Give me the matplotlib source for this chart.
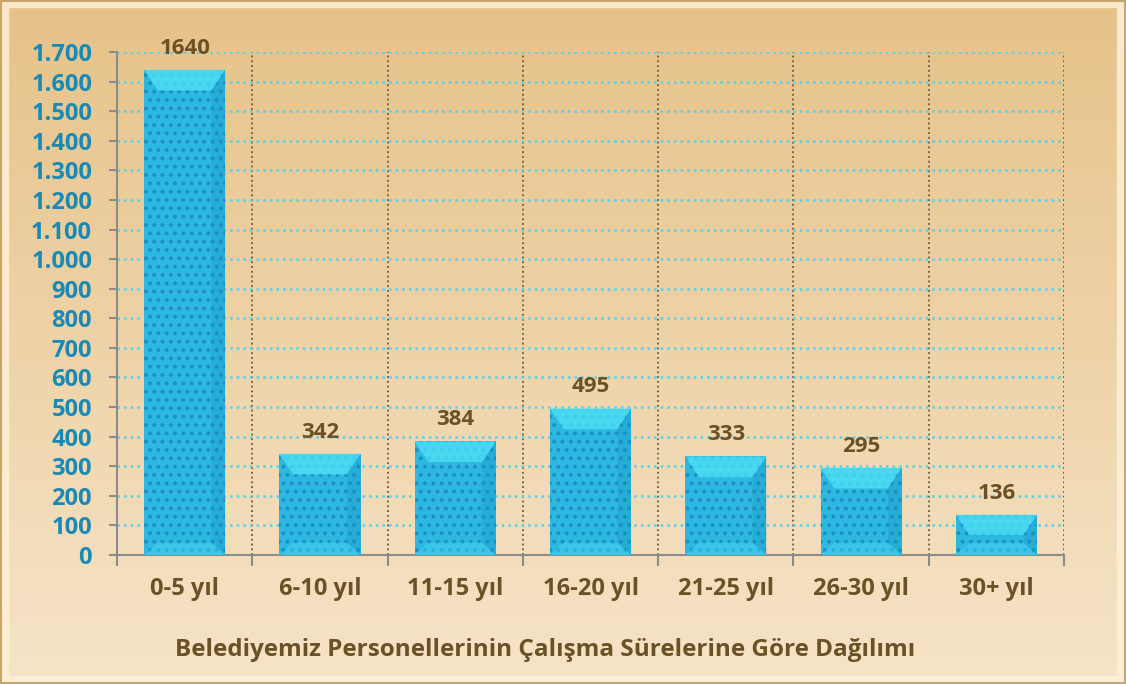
import numpy as np
import matplotlib.pyplot as plt
from matplotlib.patches import Polygon, Rectangle
from matplotlib.ticker import FuncFormatter

plt.rcParams['font.family'] = ['Open Sans', 'DejaVu Sans']
plt.rcParams['hatch.linewidth'] = 1.6

categories = ['0-5 yıl', '6-10 yıl', '11-15 yıl', '16-20 yıl', '21-25 yıl', '26-30 yıl', '30+ yıl']
values = [1640, 342, 384, 495, 333, 295, 136]
title = 'Belediyemiz Personellerinin Çalışma Sürelerine Göre Dağılımı'

brown = '#6b5226'
blue_txt = '#1989b5'

fig = plt.figure(figsize=(11.26, 6.84), dpi=100)

# background gradient
bg = fig.add_axes([0, 0, 1, 1], zorder=0)
top_c = np.array([0xe6, 0xc2, 0x88]) / 255
bot_c = np.array([0xf6, 0xe4, 0xc8]) / 255
t = np.linspace(0, 1, 256)[:, None]
grad = top_c * (1 - t[..., None]) + bot_c * t[..., None]
grad = np.repeat(grad, 2, axis=1)
bg.imshow(grad, aspect='auto', extent=[0, 1, 0, 1], origin='upper')
bg.add_patch(Rectangle((0.004, 0.006), 0.992, 0.988, fill=False, ec='#fff3dc', lw=6, alpha=0.8))
bg.add_patch(Rectangle((0.001, 0.001), 0.998, 0.998, fill=False, ec='#c9a56e', lw=1.5))
bg.set_xlim(0, 1)
bg.set_ylim(0, 1)
bg.axis('off')

ax = fig.add_axes([0.1039, 0.1886, 0.8411, 0.7354], zorder=1)
ax.patch.set_alpha(0)

x = np.arange(len(categories))
bars = ax.bar(x, values, width=0.6, color='#2db8e2', edgecolor='#1d8fc0', linewidth=0,
              hatch='..', zorder=3)

# bevel highlight on bar tops and bottoms
bev_y = 70
for b in bars:
    x0, w, h = b.get_x(), b.get_width(), b.get_height()
    d = min(bev_y, h / 2)
    dx = w * 0.17 * d / bev_y
    ax.add_patch(Polygon([(x0, h), (x0 + w, h), (x0 + w - dx, h - d), (x0 + dx, h - d)],
                         closed=True, fc='#4fe3f7', ec='none', alpha=0.75, zorder=4))
    ax.add_patch(Polygon([(x0, 0), (x0 + w, 0), (x0 + w - dx, d * 0.6), (x0 + dx, d * 0.6)],
                         closed=True, fc='#43d4f0', ec='none', alpha=0.5, zorder=4))
    ax.add_patch(Polygon([(x0 + w, 0), (x0 + w, h), (x0 + w - dx, h - d), (x0 + w - dx, d * 0.6)],
                         closed=True, fc='#1a90c0', ec='none', alpha=0.3, zorder=4))

for xi, v in zip(x, values):
    ax.annotate(str(v), (xi, v), xytext=(0, 8), textcoords='offset points',
                ha='center', va='bottom', fontsize=16, fontweight='bold', color=brown)

ax.set_xlim(-0.5, len(categories) - 0.5)
ax.set_ylim(0, 1700)
ax.set_yticks(np.arange(0, 1701, 100))
ax.yaxis.set_major_formatter(FuncFormatter(lambda v, p: f'{int(v):,}'.replace(',', '.')))
ax.tick_params(axis='y', colors='#8c8c8c', labelcolor=blue_txt, length=6, width=1.5, pad=12)
for lab in ax.get_yticklabels():
    lab.set_fontweight('bold')
    lab.set_fontsize(17)

ax.set_xticks(x)
ax.set_xticklabels(categories, fontsize=17, fontweight='bold', color=brown)
ax.tick_params(axis='x', length=0, pad=16)
ax.set_xticks(np.arange(-0.5, len(categories)), minor=True)
ax.tick_params(axis='x', which='minor', length=8, width=1.5, color='#8c8c8c')

ax.grid(axis='y', color='#52d2ee', linestyle=':', linewidth=1.8, zorder=1)
for xb in np.arange(0.5, len(categories)):
    ax.axvline(xb, color='#6b5a3e', linestyle=':', linewidth=1.3, zorder=1)

for s in ['top', 'right']:
    ax.spines[s].set_visible(False)
for s in ['left', 'bottom']:
    ax.spines[s].set_color('#8c8c8c')
    ax.spines[s].set_linewidth(1.5)

fig.text(0.484, 0.05, title, ha='center', va='center', fontsize=17.5, fontweight='bold', color=brown)

fig.savefig('out.png', dpi=100)
